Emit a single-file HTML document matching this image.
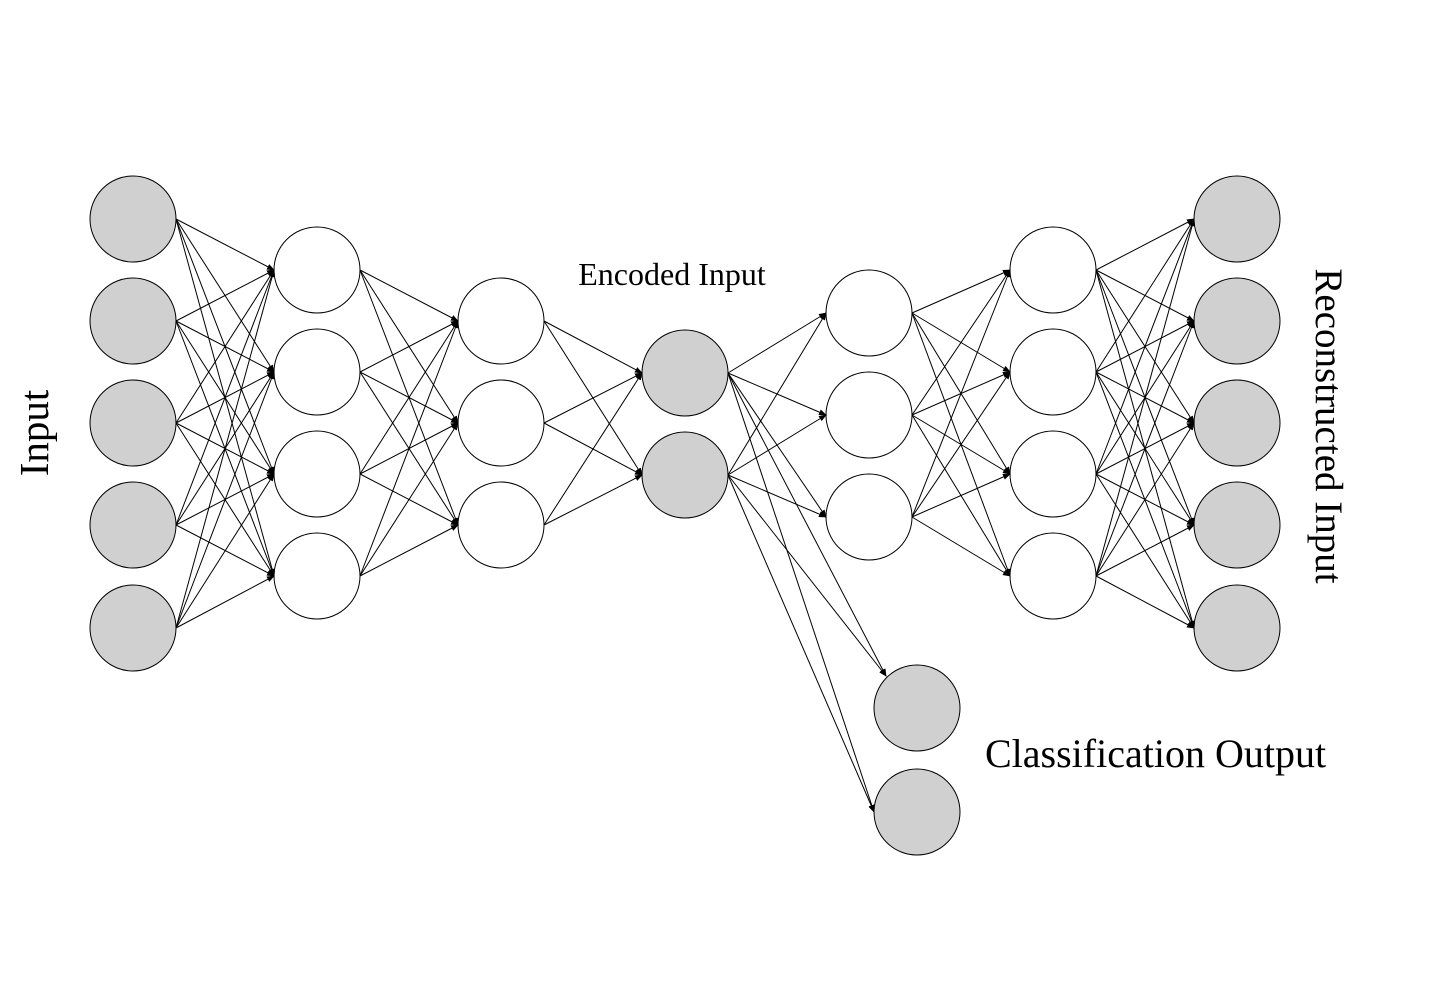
<!DOCTYPE html>
<html><head><meta charset="utf-8"><style>
html,body{margin:0;padding:0;background:#fff;}
svg{display:block;}
text{font-family:"Liberation Serif",serif;fill:#000;}
</style></head><body>
<svg id="s" width="1432" height="998" viewBox="0 0 1432 998" xmlns="http://www.w3.org/2000/svg">
<defs><marker id="a" markerWidth="8" markerHeight="6" refX="7" refY="3" orient="auto" markerUnits="userSpaceOnUse"><path d="M0,0 L8,3 L0,6 Z" fill="#000"/></marker></defs>
<g id="C" stroke="#000" stroke-width="1"></g>
<g id="L" stroke="#000" stroke-width="1" fill="none"></g>
<text x="0" y="0" font-size="41" transform="translate(48,433) rotate(-90)" text-anchor="middle">Input</text>
<text x="0" y="0" font-size="39" transform="translate(1316,426) rotate(90)" text-anchor="middle">Reconstructed Input</text>
<text x="672" y="285" font-size="32" text-anchor="middle">Encoded Input</text>
<text x="985" y="767" font-size="40">Classification Output</text>
</svg>
<script>
var R=43;
var layers=[
 {x:133,ys:[219,321,423,525,628],g:1},
 {x:317,ys:[270,372,474,576],g:0},
 {x:501,ys:[321,423,525],g:0},
 {x:685,ys:[373,475],g:1},
 {x:869,ys:[313,415,517],g:0},
 {x:1053,ys:[270,372,474,576],g:0},
 {x:1237,ys:[219,321,423,525,628],g:1}
];
var L=document.getElementById('L'),C=document.getElementById('C'),ns="http://www.w3.org/2000/svg";
function line(x1,y1,x2,y2){var l=document.createElementNS(ns,'line');l.setAttribute('x1',x1);l.setAttribute('y1',y1);l.setAttribute('x2',x2);l.setAttribute('y2',y2);l.setAttribute('marker-end','url(#a)');L.appendChild(l);}
function circ(x,y,g){var c=document.createElementNS(ns,'circle');c.setAttribute('cx',x);c.setAttribute('cy',y);c.setAttribute('r',R);c.setAttribute('fill',g?'#d0d0d0':'#fff');C.appendChild(c);}
for(var i=0;i<layers.length-1;i++){var a=layers[i],b=layers[i+1];
 a.ys.forEach(function(y1){b.ys.forEach(function(y2){line(a.x+R,y1,b.x-R,y2);});});}
layers[3].ys.forEach(function(y1){line(728,y1,886,676);line(728,y1,874,812);});
layers.forEach(function(l){l.ys.forEach(function(y){circ(l.x,y,l.g);});});
circ(917,708,1);circ(917,812,1);
</script>
</body></html>
